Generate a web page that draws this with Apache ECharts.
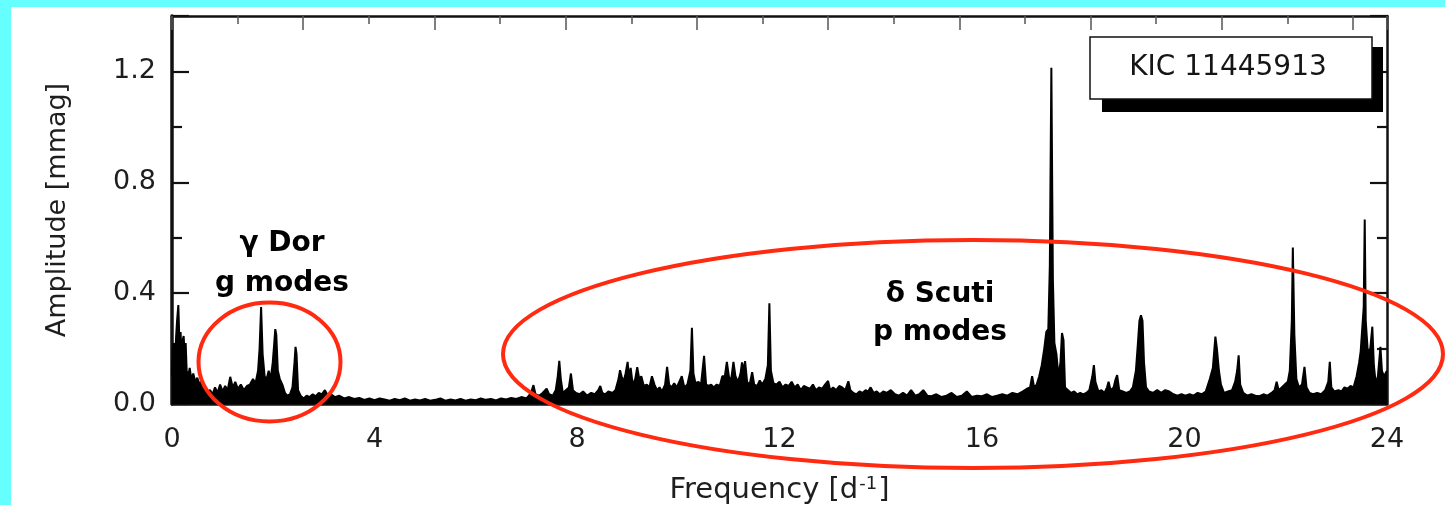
<!DOCTYPE html>
<html><head><meta charset="utf-8">
<script src="https://cdn.jsdelivr.net/npm/echarts@6/dist/echarts.min.js"></script>
<style>
html,body{margin:0;padding:0;background:#66FFFF;width:1445px;height:505px;overflow:hidden}
#panel{position:absolute;left:11px;top:7px;width:1434px;height:498px;background:#fff}
#chart{position:absolute;left:0;top:0;width:1445px;height:505px}
</style></head><body><div id="panel"></div><div id="chart"></div>
<script>
// Frequency (d^-1) and amplitude (mmag)
const freqs = [
0.00,0.02,0.04,0.06,0.08,0.10,0.125,0.15,0.17,0.19,0.21,0.23,0.25,0.27,0.29,0.32,0.35,0.38,0.42,0.46,0.50,0.54,0.58,0.62,0.66,0.70,0.75,0.80,0.85,0.90,0.95,1.00,1.05,1.10,1.15,1.20,1.25,1.30,1.36,1.42,1.48,1.54,1.60,1.65,1.70,1.73,1.76,1.79,1.83,1.87,1.91,1.95,1.99,2.02,2.04,2.06,2.09,2.13,2.18,2.23,2.28,2.33,2.38,2.42,2.44,2.46,2.49,2.54,2.60,2.66,2.72,2.78,2.84,2.90,2.96,3.02,3.08,3.14,3.22,3.30,3.40,3.50,
3.60,3.70,3.80,3.90,4.00,4.10,4.20,4.30,4.40,4.50,4.60,4.70,4.80,4.90,5.00,5.10,5.20,5.30,5.40,5.50,5.60,5.70,5.80,5.90,6.00,6.10,6.20,6.30,6.40,6.50,6.60,6.70,6.80,6.90,7.00,
7.05,7.10,7.14,7.18,7.25,7.32,7.40,7.45,7.52,7.58,7.62,7.65,7.68,7.72,7.78,7.84,7.88,7.92,7.98,8.05,8.12,8.20,8.28,8.35,8.42,8.46,8.50,8.56,8.62,8.70,8.76,8.82,8.85,8.88,8.92,8.96,9.00,9.03,9.06,9.10,9.15,9.19,9.23,9.27,9.32,9.38,9.43,9.48,9.53,9.58,9.63,9.68,9.74,9.78,9.82,9.87,9.92,9.97,10.02,10.07,10.12,10.18,10.24,10.27,10.30,10.34,10.40,10.45,10.51,10.55,10.60,10.65,10.70,10.76,10.82,10.87,10.92,10.96,11.00,11.04,11.09,11.13,11.18,11.23,11.26,11.30,11.32,11.36,11.41,11.46,11.50,11.56,11.61,11.66,11.72,11.77,11.80,11.83,11.88,11.94,12.00,12.06,12.12,12.18,12.24,12.30,12.36,12.42,12.48,12.54,12.60,12.66,12.72,12.78,12.84,12.90,12.96,13.00,13.06,13.12,13.18,13.24,13.30,13.36,13.40,13.46,13.52,13.58,13.64,13.70,13.75,13.80,13.86,13.92,13.98,14.05,14.12,14.20,14.28,14.36,14.44,14.52,14.60,14.68,14.76,14.84,14.92,15.00,15.10,15.20,15.30,15.40,15.50,15.60,15.70,15.80,15.90,16.00,16.10,16.20,16.30,16.40,16.50,16.60,16.70,16.80,16.90,
16.95,16.99,17.03,17.08,17.13,17.18,17.23,17.27,17.31,17.34,17.37,17.40,17.43,17.47,17.51,17.55,17.58,17.61,17.64,17.70,17.76,17.82,17.88,17.94,18.00,18.06,18.12,18.18,18.21,18.24,18.30,18.36,18.42,18.47,18.50,18.54,18.60,18.64,18.67,18.71,18.78,18.85,18.92,18.98,19.04,19.08,19.11,19.14,19.17,19.20,19.24,19.30,19.38,19.46,19.54,19.62,19.70,19.78,19.86,19.94,20.02,20.10,20.18,20.26,20.34,20.42,20.50,20.56,20.61,20.64,20.68,20.72,20.78,20.86,20.94,21.00,21.04,21.07,21.10,21.16,21.24,21.32,21.40,21.48,21.56,21.64,21.72,21.78,21.82,21.86,21.92,21.98,22.04,22.08,22.12,22.14,22.17,22.21,22.26,22.32,22.37,22.41,22.47,22.54,22.62,22.70,22.78,22.84,22.87,22.90,22.96,23.04,23.10,23.16,23.22,23.28,23.34,23.40,23.45,23.48,23.54,23.56,23.58,23.62,23.67,23.71,23.74,23.78,23.82,23.87,23.90,23.94,24.00
];
const amps = [
0.10,0.20,0.22,0.15,0.24,0.30,0.357,0.20,0.26,0.14,0.23,0.245,0.18,0.22,0.12,0.10,0.13,0.09,0.11,0.08,0.095,0.07,0.085,0.05,0.06,0.045,0.05,0.035,0.06,0.04,0.07,0.045,0.065,0.05,0.098,0.06,0.08,0.055,0.07,0.05,0.065,0.07,0.09,0.075,0.12,0.20,0.35,0.18,0.10,0.09,0.12,0.09,0.15,0.22,0.27,0.25,0.12,0.09,0.07,0.04,0.03,0.035,0.06,0.15,0.206,0.18,0.05,0.03,0.02,0.03,0.025,0.035,0.028,0.04,0.035,0.05,0.03,0.035,0.025,0.03,0.02,0.025,
0.018,0.022,0.015,0.02,0.014,0.02,0.016,0.012,0.018,0.014,0.02,0.012,0.016,0.013,0.018,0.012,0.015,0.02,0.012,0.016,0.013,0.018,0.012,0.016,0.014,0.02,0.015,0.018,0.013,0.02,0.016,0.022,0.018,0.025,0.02,
0.03,0.045,0.068,0.035,0.03,0.04,0.055,0.035,0.03,0.05,0.10,0.156,0.09,0.04,0.05,0.06,0.11,0.05,0.04,0.035,0.045,0.03,0.04,0.035,0.05,0.065,0.04,0.035,0.045,0.04,0.05,0.09,0.122,0.10,0.08,0.11,0.152,0.09,0.13,0.07,0.09,0.133,0.09,0.10,0.065,0.07,0.06,0.10,0.07,0.05,0.06,0.045,0.07,0.134,0.07,0.06,0.075,0.06,0.08,0.10,0.06,0.07,0.12,0.275,0.11,0.075,0.08,0.07,0.174,0.07,0.065,0.07,0.06,0.07,0.065,0.10,0.10,0.152,0.10,0.08,0.152,0.10,0.08,0.11,0.15,0.12,0.155,0.08,0.07,0.115,0.07,0.065,0.085,0.07,0.09,0.14,0.363,0.12,0.075,0.07,0.08,0.06,0.07,0.065,0.08,0.06,0.07,0.05,0.065,0.06,0.055,0.07,0.05,0.06,0.055,0.07,0.083,0.05,0.06,0.05,0.065,0.06,0.05,0.082,0.05,0.04,0.035,0.045,0.04,0.05,0.045,0.06,0.04,0.045,0.035,0.045,0.04,0.05,0.035,0.03,0.04,0.03,0.05,0.03,0.035,0.05,0.03,0.028,0.035,0.025,0.03,0.04,0.025,0.03,0.045,0.025,0.03,0.028,0.035,0.025,0.03,0.035,0.03,0.04,0.035,0.045,0.056,
0.06,0.10,0.06,0.07,0.10,0.14,0.20,0.26,0.27,0.50,1.213,0.45,0.22,0.18,0.10,0.15,0.256,0.23,0.06,0.05,0.04,0.045,0.035,0.04,0.035,0.04,0.05,0.10,0.14,0.08,0.045,0.05,0.04,0.06,0.08,0.05,0.06,0.09,0.104,0.05,0.045,0.04,0.045,0.06,0.12,0.22,0.30,0.32,0.30,0.15,0.06,0.045,0.04,0.05,0.04,0.05,0.045,0.035,0.03,0.035,0.03,0.035,0.03,0.04,0.035,0.045,0.09,0.13,0.243,0.20,0.12,0.07,0.04,0.045,0.05,0.08,0.12,0.176,0.07,0.04,0.03,0.035,0.03,0.028,0.035,0.03,0.04,0.05,0.08,0.05,0.06,0.07,0.08,0.12,0.30,0.565,0.25,0.09,0.06,0.07,0.134,0.06,0.04,0.035,0.04,0.035,0.05,0.08,0.152,0.06,0.045,0.05,0.045,0.06,0.055,0.065,0.06,0.10,0.15,0.19,0.35,0.666,0.30,0.19,0.20,0.279,0.14,0.07,0.10,0.206,0.12,0.10,0.12
];
const xTickLabels = [0, 4, 8, 12, 16, 20, 24];
const yTickLabels = ['0.0', '0.4', '0.8', '1.2'];
const starLabel = 'KIC 11445913';
const annotations = ['γ Dor', 'g modes', 'δ Scuti', 'p modes'];
const xName = 'Frequency [d';
const xNameSup = '-1';
const yName = 'Amplitude [mmag]';

const FONT = '"DejaVu Sans", "Liberation Sans", sans-serif';
const spectrum = freqs.map((f, i) => [f, amps[i]]);
const muHzPerCd = 11.574;

const chart = echarts.init(document.getElementById('chart'), null, {renderer: 'canvas'});
const tickStyle = {color: '#111', width: 2.2};
const option = {
  backgroundColor: 'transparent',
  animation: false,
  grid: {left: 172, top: 16, right: 58, bottom: 101, containLabel: false, outerBoundsMode: 'none'},
  xAxis: [
    {
      type: 'value', position: 'bottom', min: 0, max: 24, interval: 4,
      name: '{b|' + xName + '}{s|' + xNameSup + '}{b|]}',
      nameLocation: 'middle', nameGap: 71,
      nameTextStyle: {rich: {
        b: {fontFamily: FONT, fontSize: 29, color: '#1e1e1e'},
        s: {fontFamily: FONT, fontSize: 18, color: '#1e1e1e', verticalAlign: 'top', padding: [0, 1, 12, 1]}
      }},
      axisLine: {show: true, onZero: false, lineStyle: {color: '#111', width: 2.5}},
      axisTick: {show: false},
      splitLine: {show: false},
      axisLabel: {
        margin: 22, fontFamily: FONT, fontSize: 27, color: '#1e1e1e',
        formatter: v => xTickLabels.indexOf(v) >= 0 ? String(v) : ''
      }
    },
    {
      type: 'value', position: 'top', min: 0, max: 24 * muHzPerCd, interval: 30,
      axisLine: {show: true, onZero: false, lineStyle: {color: '#111', width: 2.5}},
      axisTick: {show: true, inside: true, length: 14, lineStyle: {color: '#555', width: 1.5}},
      minorTick: {show: true, splitNumber: 2, length: 8, lineStyle: {color: '#555', width: 1.5}},
      axisLabel: {show: false}, splitLine: {show: false}, minorSplitLine: {show: false}
    }
  ],
  yAxis: [
    {
      type: 'value', position: 'left', min: 0, max: 1.4, interval: 0.4,
      name: yName, nameLocation: 'middle', nameGap: 101,
      nameTextStyle: {fontFamily: FONT, fontSize: 27, color: '#1e1e1e'},
      axisLine: {show: true, onZero: false, lineStyle: {color: '#111', width: 3.5}},
      axisTick: {show: true, inside: true, length: 17, lineStyle: tickStyle},
      minorTick: {show: true, splitNumber: 2, length: 10, lineStyle: tickStyle},
      splitLine: {show: false}, minorSplitLine: {show: false},
      axisLabel: {
        margin: 16, fontFamily: FONT, fontSize: 27, color: '#1e1e1e',
        formatter: v => { const s = v.toFixed(1); return yTickLabels.indexOf(s) >= 0 ? s : ''; }
      }
    },
    {
      type: 'value', position: 'right', min: 0, max: 1.4, interval: 0.4,
      axisLine: {show: true, onZero: false, lineStyle: {color: '#111', width: 2.5}},
      axisTick: {show: true, inside: true, length: 17, lineStyle: tickStyle},
      minorTick: {show: true, splitNumber: 2, length: 10, lineStyle: tickStyle},
      axisLabel: {show: false}, splitLine: {show: false}, minorSplitLine: {show: false}
    }
  ],
  series: [{
    type: 'line', xAxisIndex: 0, yAxisIndex: 0,
    data: spectrum, showSymbol: false, symbol: 'none', sampling: 'none',
    lineStyle: {color: '#000', width: 2},
    areaStyle: {color: '#000', opacity: 1},
    z: 3, clip: true
  }],
  graphic: [
    {type: 'rect', z: 100, shape: {x: 1102, y: 47, width: 281, height: 65}, style: {fill: '#000'}},
    {type: 'rect', z: 101, shape: {x: 1090, y: 37, width: 282, height: 62}, style: {fill: '#fff', stroke: '#111', lineWidth: 1.5}},
    {type: 'text', z: 102, x: 1228, y: 68, style: {text: starLabel, font: '28px ' + FONT, fill: '#151515', align: 'center', verticalAlign: 'middle', textAlign: 'center', textVerticalAlign: 'middle'}},
    {type: 'ellipse', z: 110, shape: {cx: 269.5, cy: 362, rx: 71, ry: 59.5}, style: {fill: 'none', stroke: '#FF2A10', lineWidth: 4}},
    {type: 'ellipse', z: 110, shape: {cx: 973, cy: 354, rx: 470, ry: 114}, style: {fill: 'none', stroke: '#FF2A10', lineWidth: 4}},
    {type: 'text', z: 111, x: 282, y: 244, style: {text: annotations[0], font: 'bold 28px ' + FONT, fill: '#000', align: 'center', verticalAlign: 'middle', textAlign: 'center', textVerticalAlign: 'middle'}},
    {type: 'text', z: 111, x: 282, y: 284, style: {text: annotations[1], font: 'bold 28px ' + FONT, fill: '#000', align: 'center', verticalAlign: 'middle', textAlign: 'center', textVerticalAlign: 'middle'}},
    {type: 'text', z: 111, x: 940, y: 295, style: {text: annotations[2], font: 'bold 28px ' + FONT, fill: '#000', align: 'center', verticalAlign: 'middle', textAlign: 'center', textVerticalAlign: 'middle'}},
    {type: 'text', z: 111, x: 940, y: 333, style: {text: annotations[3], font: 'bold 28px ' + FONT, fill: '#000', align: 'center', verticalAlign: 'middle', textAlign: 'center', textVerticalAlign: 'middle'}}
  ]
};
chart.setOption(option);
</script></body></html>
